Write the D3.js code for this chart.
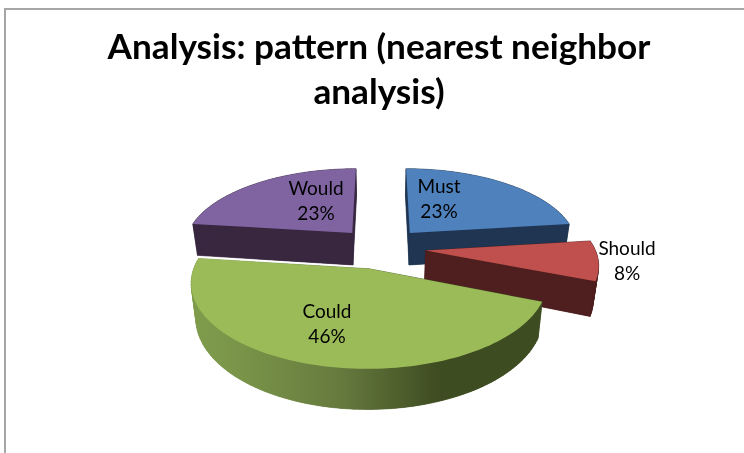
<!DOCTYPE html>
<html>
<head>
<meta charset="utf-8">
<script src="https://cdn.jsdelivr.net/npm/d3@7"></script>
<style>
  html, body { margin: 0; padding: 0; background: #fff; }
  svg { display: block; filter: blur(0.4px); }
  text { font-family: Lato, "Open Sans", sans-serif; fill: #000; }
</style>
</head>
<body>
<svg width="744" height="453"></svg>
<script>
var categories = ["Must", "Should", "Could", "Would"];
var shares = [23, 8, 46, 23];
var percentLabels = ["23%", "8%", "46%", "23%"];
var titleLines = ["Analysis: pattern (nearest neighbor", "analysis)"];

var topColors = ["#4f81bd", "#c0504d", "#9bbb59", "#8064a2"];
var wallColors = ["#1f3552", "#4e1f1e", "url(#couldWall)", "#38273f"];
var drawOrder = [0, 3, 1, 2];

// label centres
var labelX = [439, 627, 327, 316];
var labelY = [193, 255, 318, 195];

// view of the tilted disc
var cx = 381, cy = 248;
var radiusX = 169, radiusY = 78;
var perspective = 0.15;
var explode = 0.265;
var wallHeight = 33;
var wallShrink = 0.975;

var svg = d3.select("svg");

var defs = svg.append("defs");
var grad = defs.append("linearGradient")
  .attr("id", "couldWall")
  .attr("gradientUnits", "userSpaceOnUse")
  .attr("x1", 192).attr("x2", 545).attr("y1", 0).attr("y2", 0);
grad.selectAll("stop")
  .data([[0, "#7f9c4c"], [0.13, "#7a9549"], [0.42, "#667a3e"], [0.7, "#3e4c21"], [1, "#3e4c21"]])
  .enter().append("stop")
  .attr("offset", function(d) { return d[0]; })
  .attr("stop-color", function(d) { return d[1]; });

// frame, only left and top are in the crop
svg.append("path")
  .attr("d", "M5,453V9H744")
  .style("fill", "none")
  .style("stroke", "#a6a6a6")
  .style("stroke-width", 2);

svg.selectAll("text.title")
  .data(titleLines)
  .enter().append("text")
  .attr("class", "title")
  .attr("x", 379)
  .attr("y", function(d, i) { return 59 + i * 45; })
  .attr("text-anchor", "middle")
  .style("font-size", "35.2px")
  .style("font-weight", "bold")
  .text(function(d) { return d; });

var pie = d3.pie().sort(null)(shares);

function project(x, z, down) {
  var w = 1 / (1 + perspective * z);
  var px = radiusX * x * w;
  var py = -radiusY * z * w;
  if (down) {
    return [cx + px * wallShrink, cy + py + wallHeight * w];
  }
  return [cx + px, cy + py];
}

// outline of one slice on the unit disc, moved out along its bisector
function outline(d) {
  var mid = (d.startAngle + d.endAngle) / 2;
  var ox = explode * Math.sin(mid), oz = explode * Math.cos(mid);
  var steps = Math.max(4, Math.round((d.endAngle - d.startAngle) / 0.03));
  var pts = [[ox, oz]];
  d3.range(steps + 1).forEach(function(i) {
    var a = d.startAngle + (d.endAngle - d.startAngle) * i / steps;
    pts.push([ox + Math.sin(a), oz + Math.cos(a)]);
  });
  return pts;
}

var line = d3.line();

var slices = svg.selectAll("g.slice")
  .data(drawOrder.map(function(i) { return { index: i, arc: pie[i] }; }))
  .enter().append("g")
  .attr("class", "slice");

slices.each(function(d) {
  var g = d3.select(this);
  var pts = outline(d.arc);
  var wall = wallColors[d.index];

  var bottom = pts.map(function(p) { return project(p[0], p[1], true); });
  var top = pts.map(function(p) { return project(p[0], p[1], false); });

  g.append("path")
    .attr("d", line(bottom) + "Z")
    .style("fill", wall);

  g.selectAll("path.wall")
    .data(d3.range(pts.length))
    .enter().append("path")
    .attr("class", "wall")
    .attr("d", function(i) {
      var j = (i + 1) % pts.length;
      return line([top[i], top[j], bottom[j], bottom[i]]) + "Z";
    })
    .style("fill", wall)
    .style("stroke", wall)
    .style("stroke-width", 0.6);

  g.append("path")
    .attr("d", line(top) + "Z")
    .style("fill", topColors[d.index]);
});

var labels = svg.selectAll("g.label")
  .data(categories)
  .enter().append("g")
  .attr("class", "label");

labels.append("text")
  .attr("x", function(d, i) { return labelX[i]; })
  .attr("y", function(d, i) { return labelY[i]; })
  .attr("text-anchor", "middle")
  .style("font-size", "19px")
  .text(function(d) { return d; });

labels.append("text")
  .attr("x", function(d, i) { return labelX[i]; })
  .attr("y", function(d, i) { return labelY[i] + 25; })
  .attr("text-anchor", "middle")
  .style("font-size", "19px")
  .text(function(d, i) { return percentLabels[i]; });
</script>
</body>
</html>
